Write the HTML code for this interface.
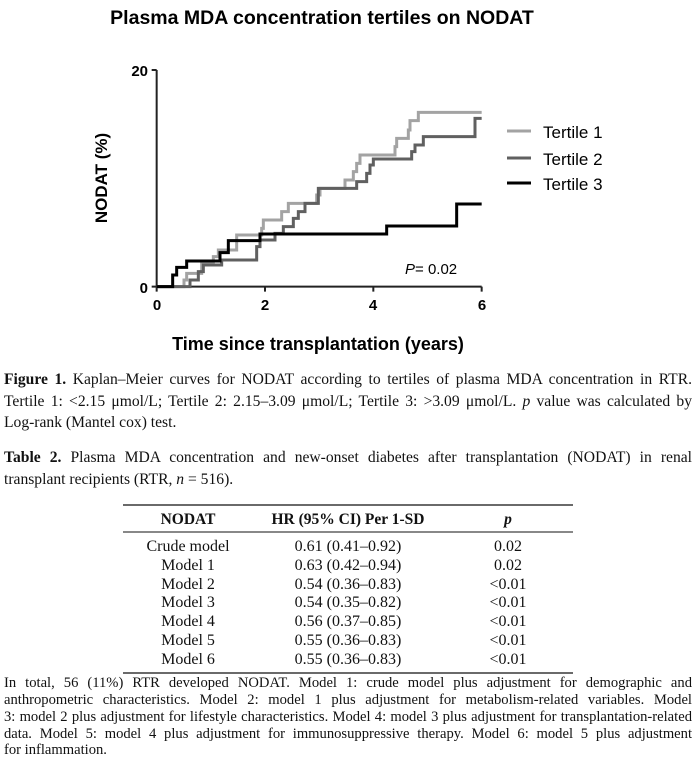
<!DOCTYPE html>
<html><head><meta charset="utf-8"><style>
html,body{margin:0;padding:0;background:#fff;}
body{width:700px;height:760px;position:relative;overflow:hidden;}
.l{position:absolute;left:4px;width:688px;font-family:"Liberation Serif",serif;font-size:15.6px;color:#111;white-space:nowrap;text-align:justify;text-align-last:justify;}
.nl{text-align-last:left;}
.f{font-size:14.6px;}
</style></head><body>
<svg width="700" height="500" style="position:absolute;left:0;top:0" font-family="Liberation Sans, sans-serif">
<text x="322" y="24" text-anchor="middle" font-size="19.5" font-weight="bold">Plasma MDA concentration tertiles on NODAT</text>
<text transform="translate(107,178) rotate(-90)" text-anchor="middle" font-size="17" font-weight="bold">NODAT (%)</text>
<text x="318" y="350" text-anchor="middle" font-size="18" font-weight="bold">Time since transplantation (years)</text>
<g font-size="15" font-weight="bold">
<text x="148" y="76" text-anchor="end">20</text>
<text x="148" y="293" text-anchor="end">0</text>
<text x="157" y="310" text-anchor="middle">0</text>
<text x="265" y="310" text-anchor="middle">2</text>
<text x="373" y="310" text-anchor="middle">4</text>
<text x="482" y="310" text-anchor="middle">6</text>
</g>
<text x="405" y="274" font-size="15"><tspan font-style="italic">P</tspan>= 0.02</text>
<g transform="translate(90,60) scale(0.33333)" fill="none" stroke-linejoin="miter">
<g stroke="#222" stroke-width="6">
<path d="M200,30 V680 H1175 M185,30 H200 M185,680 H200 M200,680 V695 M525,680 V695 M850,680 V695 M1175,680 V695"/>
</g>
<path stroke="#a3a3a3" stroke-width="9" d="M200,680 H282 V660 H290 V640 H335 V610 H370 V590 H385 V570 H440 V525 H515 V505 H520 V480 H575 V455 H595 V430 H680 V405 H690 V385 H765 V360 H790 V335 H800 V310 H810 V285 H915 V260 H920 V235 H955 V210 H960 V182 H985 V157 H1175"/>
<path stroke="#606060" stroke-width="9" d="M200,680 H300 V660 H325 V635 H340 V615 H395 V600 H500 V560 H510 V540 H555 V520 H580 V500 H610 V475 H625 V455 H645 V430 H685 V385 H800 V365 H830 V340 H840 V315 H850 V297 H965 V275 H975 V255 H1000 V230 H1155 V175 H1175"/>
<path stroke="#000" stroke-width="9" d="M200,680 H248 V645 H260 V622 H290 V603 H390 V578 H415 V542 H510 V522 H890 V498 H1100 V432 H1175"/>
</g>
<line x1="507" y1="131" x2="531" y2="131" stroke="#a3a3a3" stroke-width="3"/>
<line x1="507" y1="158" x2="531" y2="158" stroke="#606060" stroke-width="3"/>
<line x1="507" y1="183" x2="531" y2="183" stroke="#000" stroke-width="3"/>
<text x="543" y="138" font-size="17">Tertile 1</text>
<text x="543" y="165" font-size="17">Tertile 2</text>
<text x="543" y="190" font-size="17">Tertile 3</text>
</svg>
<div class="l" style="top:371px"><b>Figure 1.</b> Kaplan–Meier curves for NODAT according to tertiles of plasma MDA concentration in RTR.</div>
<div class="l" style="top:393px">Tertile 1: &lt;2.15 μmol/L; Tertile 2: 2.15–3.09 μmol/L; Tertile 3: &gt;3.09 μmol/L. <i>p</i> value was calculated by</div>
<div class="l nl" style="top:414px">Log-rank (Mantel cox) test.</div>
<div class="l" style="top:449px"><b>Table 2.</b> Plasma MDA concentration and new-onset diabetes after transplantation (NODAT) in renal</div>
<div class="l nl" style="top:471px">transplant recipients (RTR, <i>n</i> = 516).</div>
<svg width="700" height="260" style="position:absolute;left:0;top:495px" font-family="Liberation Serif, serif" font-size="16" fill="#111">
<line x1="123" y1="10" x2="573" y2="10" stroke="#111" stroke-width="1.2"/>
<line x1="123" y1="37" x2="573" y2="37" stroke="#111" stroke-width="1"/>
<line x1="123" y1="178" x2="573" y2="178" stroke="#111" stroke-width="1.2"/>
<g text-anchor="middle" font-weight="bold" font-size="15.5"><text x="188" y="29">NODAT</text><text x="348" y="29">HR (95% CI) Per 1-SD</text><text x="508" y="29" font-style="italic">p</text></g>
<g text-anchor="middle">
<text x="188" y="56">Crude model</text><text x="348" y="56">0.61 (0.41–0.92)</text><text x="508" y="56">0.02</text>
<text x="188" y="75">Model 1</text><text x="348" y="75">0.63 (0.42–0.94)</text><text x="508" y="75">0.02</text>
<text x="188" y="94">Model 2</text><text x="348" y="94">0.54 (0.36–0.83)</text><text x="508" y="94">&lt;0.01</text>
<text x="188" y="112">Model 3</text><text x="348" y="112">0.54 (0.35–0.82)</text><text x="508" y="112">&lt;0.01</text>
<text x="188" y="131">Model 4</text><text x="348" y="131">0.56 (0.37–0.85)</text><text x="508" y="131">&lt;0.01</text>
<text x="188" y="150">Model 5</text><text x="348" y="150">0.55 (0.36–0.83)</text><text x="508" y="150">&lt;0.01</text>
<text x="188" y="169">Model 6</text><text x="348" y="169">0.55 (0.36–0.83)</text><text x="508" y="169">&lt;0.01</text>
</g>
</svg>
<div class="l f" style="top:675px">In total, 56 (11%) RTR developed NODAT. Model 1: crude model plus adjustment for demographic and</div>
<div class="l f" style="top:692px">anthropometric characteristics. Model 2: model 1 plus adjustment for metabolism-related variables. Model</div>
<div class="l f" style="top:709px">3: model 2 plus adjustment for lifestyle characteristics. Model 4: model 3 plus adjustment for transplantation-related</div>
<div class="l f" style="top:726px">data. Model 5: model 4 plus adjustment for immunosuppressive therapy. Model 6: model 5 plus adjustment</div>
<div class="l f nl" style="top:742px">for inflammation.</div>
</body></html>
